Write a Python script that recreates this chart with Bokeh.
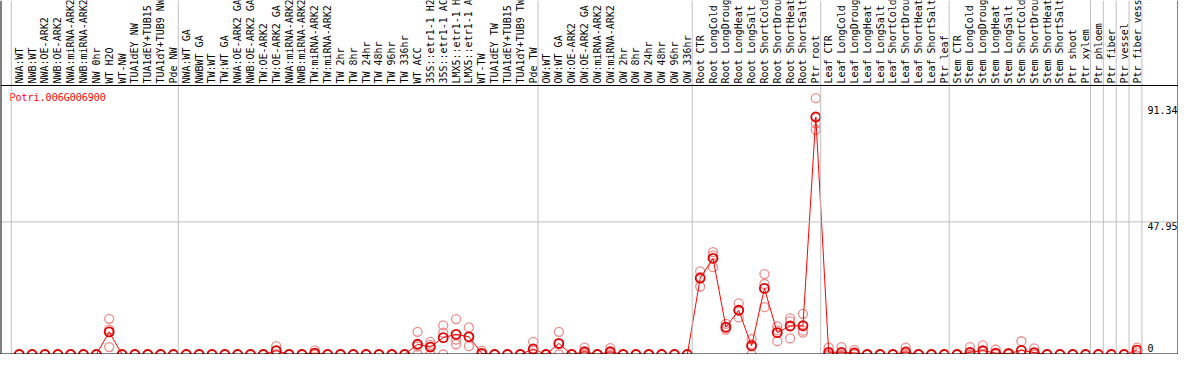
import math
from bokeh.plotting import figure
from bokeh.models import Range1d, Span
from bokeh.core.properties import value
from bokeh.embed import file_html
from bokeh.resources import INLINE

gene_id = "Potri.006G006900"

categories = [
    "NWA:WT", "NWB:WT", "NWA:OE-ARK2", "NWB:OE-ARK2", "NWA:miRNA-ARK2", "NWB:miRNA-ARK2",
    "NW 0hr", "WT H2O", "WT-NW", "TUA1dEY NW", "TUA1dEY+TUB15", "TUA1dY+TUB9 NW", "Pde NW",
    "NWA:WT GA", "NWBWT GA", "TW:WT", "TW:WT GA", "NWA:OE-ARK2 GA", "NWB:OE-ARK2 GA",
    "TW:OE-ARK2", "TW:OE-ARK2 GA", "NWA:miRNA-ARK2", "NWB:miRNA-ARK2", "TW:miRNA-ARK2",
    "TW:miRNA-ARK2", "TW 2hr", "TW 8hr", "TW 24hr", "TW 48hr", "TW 96hr", "TW 336hr",
    "WT ACC", "35S::etr1-1 H2", "35S::etr1-1 AC", "LMX5::etr1-1 H", "LMX5::etr1-1 A",
    "WT-TW", "TUA1dEY TW", "TUA1dEY+TUB15", "TUA1dY+TUB9 TW", "Pde TW",
    "OW:WT", "OW:WT GA", "OW:OE-ARK2", "OW:OE-ARK2 GA", "OW:miRNA-ARK2", "OW:miRNA-ARK2",
    "OW 2hr", "OW 8hr", "OW 24hr", "OW 48hr", "OW 96hr", "OW 336hr",
    "Root CTR", "Root LongCold", "Root LongDroug", "Root LongHeat", "Root LongSalt",
    "Root ShortCold", "Root ShortDrou", "Root ShortHeat", "Root ShortSalt", "Ptr root",
    "Leaf CTR", "Leaf LongCold", "Leaf LongDroug", "Leaf LongHeat", "Leaf LongSalt",
    "Leaf ShortCold", "Leaf ShortDrou", "Leaf ShortHeat", "Leaf ShortSalt", "Ptr leaf",
    "Stem CTR", "Stem LongCold", "Stem LongDroug", "Stem LongHeat", "Stem LongSalt",
    "Stem ShortCold", "Stem ShortDrou", "Stem ShortHeat", "Stem ShortSalt", "Ptr shoot",
    "Ptr xylem", "Ptr phloem", "Ptr fiber", "Ptr vessel", "Ptr fiber vess",
]

mean_values = [
    0, 0, 0, 0, 0, 0, 0, 8.2, 0, 0, 0, 0, 0,
    0, 0, 0, 0, 0, 0, 0, 1.4, 0, 0, 0.5, 0, 0, 0, 0, 0, 0, 0,
    3.7, 2.7, 6.1, 7.3, 6.4, 0.4, 0, 0, 0, 2.0,
    0, 4.0, 0, 1.0, 0, 1.0, 0, 0, 0, 0, 0, 0,
    27.6, 34.8, 9.9, 16.0, 3.1, 23.9, 7.9, 10.3, 10.4, 85.9,
    0.8, 0.8, 0.6, 0, 0, 0, 0.9, 0, 0, 0,
    0, 0.8, 1.4, 0.5, 0.3, 1.5, 0.7, 0, 0, 0, 0,
    0, 0, 0, 1.6,
]

replicate_values = [
    [0, 0, 0], [0, 0, 0], [0, 0, 0], [0, 0, 0], [0, 0, 0], [0, 0, 0], [0, 0, 0],
    [12.9, 9.0, 2.7], [0, 0, 0], [0, 0, 0], [0, 0, 0], [0, 0, 0], [0, 0, 0],
    [0, 0, 0], [0, 0, 0], [0, 0, 0], [0, 0, 0], [0, 0, 0], [0, 0, 0], [0, 0, 0],
    [3.0, 1.2, 0], [0, 0, 0], [0, 0, 0], [1.5, 0, 0], [0, 0, 0], [0, 0, 0], [0, 0, 0],
    [0, 0, 0], [0, 0, 0], [0, 0, 0], [0, 0, 0],
    [8.2, 2.9, 0], [4.6, 3.5, 0], [10.5, 7.9, 0], [12.8, 5.4, 3.7], [9.8, 6.4, 3.0],
    [1.3, 0, 0], [0, 0, 0], [0, 0, 0], [0, 0, 0], [4.6, 1.4, 0],
    [0, 0, 0], [8.2, 3.8, 0], [0, 0, 0], [2.5, 0.5, 0], [0, 0, 0], [2.3, 0.7, 0],
    [0, 0, 0], [0, 0, 0], [0, 0, 0], [0, 0, 0], [0, 0, 0], [0, 0, 0],
    [30.1, 28.1, 24.6], [37.0, 35.8, 31.6], [11.1, 9.7, 9.0], [18.5, 16.1, 13.4],
    [5.6, 3.7, 0], [29.1, 25.5, 17.1], [10.2, 8.7, 4.8], [13.1, 12.0, 5.8],
    [14.7, 8.6, 7.9], [92.7, 83.6, 81.3],
    [2.5, 0, 0], [2.7, 0, 0], [1.6, 0.2, 0], [0, 0, 0], [0, 0, 0], [0, 0, 0],
    [2.5, 0.2, 0], [0, 0, 0], [0, 0, 0], [0, 0, 0],
    [0, 0, 0], [2.7, 0, 0], [3.3, 1.0, 0], [1.8, 0, 0], [0.6, 0.3, 0], [4.8, 0, 0],
    [2.2, 0, 0], [0, 0, 0], [0, 0, 0], [0, 0, 0], [0, 0, 0],
    [0, 0, 0], [0, 0, 0], [0, 0, 0], [2.5, 1.6, 0.7],
]

group_starts = [0, 13, 41, 53, 63, 73, 84, 85, 86, 87, 88]
ytick_values = [0, 47.95, 91.34]
ytick_offsets = [-7, 4, 8]

W, H = 1178, 354
BAND_PX = 85
PLOT_TOP = 97.3
X_START, X_END = -1.46, 90.23
scale_y = (H - BAND_PX) / PLOT_TOP
scale_x = W / (X_END - X_START)
Y_TOP = PLOT_TOP + BAND_PX / scale_y

p = figure(width=W, height=H, x_range=Range1d(X_START, X_END), y_range=Range1d(0, Y_TOP),
           output_backend="svg", toolbar_location=None,
           x_axis_location=None, y_axis_location=None,
           min_border=0, outline_line_color=None)
p.xgrid.visible = False
p.ygrid.visible = False
p.background_fill_color = "white"
p.border_fill_color = "white"

mono = value("DejaVu Sans Mono")
grey = "#c0c0c0"

# group separators
for s in group_starts:
    p.add_layout(Span(location=s - 0.62, dimension="height", line_color=grey, line_width=1))

# mid gridline
p.add_layout(Span(location=ytick_values[1], dimension="width", line_color=grey, line_width=1))

# frame lines
p.add_layout(Span(location=PLOT_TOP, dimension="width", line_color="black", line_width=1))
p.add_layout(Span(location=X_START, dimension="height", line_color="black", line_width=2))
p.add_layout(Span(location=X_END, dimension="height", line_color="black", line_width=2))
p.add_layout(Span(location=0, dimension="width", line_color="black", line_width=2))

xs = list(range(len(categories)))

rep_x = [i for i, reps in enumerate(replicate_values) for _ in reps]
rep_y = [r for reps in replicate_values for r in reps]
p.scatter(rep_x, rep_y, marker="circle", size=9, fill_color=None,
          line_color="#ec8c8c", line_width=1.3)

p.line(xs, mean_values, line_color="#ff0000", line_width=1)
p.scatter(xs, mean_values, marker="circle", size=9, fill_color=None,
          line_color="#e00000", line_width=1.8)

# category labels
p.text(x=xs, y=[PLOT_TOP] * len(xs), text=categories, angle=math.pi / 2,
       text_align="left", text_baseline="middle", y_offset=-2,
       text_font=mono, text_font_size="10px", text_color="black")

# gene id
p.text(x=[X_START + 9 / scale_x], y=[PLOT_TOP - 12 / scale_y], text=[gene_id],
       text_align="left", text_baseline="middle",
       text_font=mono, text_font_size="10px", text_color="#ff0000")

# y labels (left-aligned, ending at the right frame border)
p.text(x=[X_END - 31 / scale_x] * len(ytick_values), y=ytick_values,
       text=[f"{v:g}" for v in ytick_values], y_offset=ytick_offsets,
       text_align="left", text_baseline="middle",
       text_font=mono, text_font_size="10px", text_color="black")

open("out.html", "w").write(file_html(p, INLINE))
